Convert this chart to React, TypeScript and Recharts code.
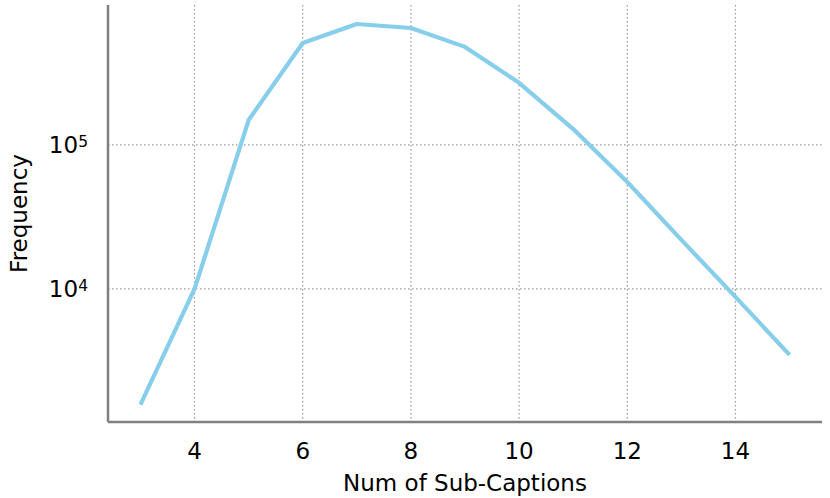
import { LineChart, Line, XAxis, YAxis, CartesianGrid } from 'recharts'

const numSubCaptions = [3, 4, 5, 6, 7, 8, 9, 10, 11, 12, 13, 14, 15]
const frequency = [1570, 10000, 149000, 511000, 692000, 649000, 480000, 270000, 129000, 55300, 21900, 8800, 3480]
const xTicks = [4, 6, 8, 10, 12, 14]
const yTicks = [10000, 100000]

const data = numSubCaptions.map((n, i) => ({ n, freq: frequency[i] }))

const FONT = 'DejaVu Sans'
const AXIS_GREY = '#808080'

const XTick = ({ x, y, payload }: any) => (
  <text x={x} y={y + 35} textAnchor='middle' fontSize={23} fontFamily={FONT} fill='#000'>
    {payload.value}
  </text>
)

const YTick = ({ x, y, payload }: any) => {
  const exp = Math.round(Math.log10(payload.value))
  return (
    <text x={x - 18} y={y + 8} textAnchor='end' fontSize={23} fontFamily={FONT} fill='#000'>
      10
      <tspan fontSize={15.5} dy={-5.5}>{exp}</tspan>
    </text>
  )
}

const xLabel = ({ viewBox }: any) => (
  <text x={viewBox.x + viewBox.width / 2} y={491} textAnchor='middle' fontSize={23} fontFamily={FONT} fill='#000'>
    Num of Sub-Captions
  </text>
)

const yLabel = ({ viewBox }: any) => {
  const cy = viewBox.y + viewBox.height / 2
  return (
    <text x={27} y={cy} textAnchor='middle' fontSize={23} fontFamily={FONT} fill='#000' transform={`rotate(-90, 27, ${cy})`}>
      Frequency
    </text>
  )
}

export default function App() {
  return (
    <div style={{ position: 'absolute', left: 0, top: 0, background: '#fff' }}>
      <LineChart width={830} height={498} data={data} margin={{ top: 5, right: 8, bottom: 0, left: 0 }}>
        {/* syncWithTicks: grid only at the ticks, no box round the plot */}
        <CartesianGrid stroke='#999' strokeDasharray='1.5 2.5' strokeWidth={1.2} syncWithTicks />
        <XAxis
          dataKey='n'
          type='number'
          domain={[2.4, 15.6]}
          ticks={xTicks}
          allowDataOverflow
          height={76}
          tickSize={0}
          tickLine={false}
          tick={<XTick />}
          axisLine={{ stroke: AXIS_GREY, strokeWidth: 2.5 }}
          label={xLabel}
        />
        <YAxis
          scale='log'
          domain={[1190, 938000]}
          ticks={yTicks}
          allowDataOverflow
          width={108}
          tickSize={0}
          tickLine={false}
          tick={<YTick />}
          axisLine={{ stroke: AXIS_GREY, strokeWidth: 2.5 }}
          label={yLabel}
        />
        <Line
          dataKey='freq'
          stroke='#87CEEB'
          strokeWidth={4.2}
          dot={false}
          strokeLinejoin='round'
          isAnimationActive={false}
        />
      </LineChart>
    </div>
  )
}
